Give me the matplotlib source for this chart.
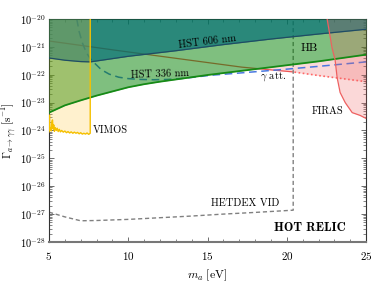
import numpy as np
import matplotlib
matplotlib.use("Agg")
import matplotlib.pyplot as plt
from matplotlib.ticker import LogLocator, MultipleLocator, NullFormatter

plt.rcParams["font.family"] = "serif"
plt.rcParams["font.serif"] = ["cmr10"]
plt.rcParams["mathtext.fontset"] = "cm"
plt.rcParams["axes.formatter.use_mathtext"] = True

# --- data (log10 of rate in s^-1, mass in eV) ---
hb_m = [5, 6, 7, 8, 9, 10, 11, 12, 13, 14, 15, 16, 18, 20, 22, 25]
hb_log = [-23.36, -23.1, -22.92, -22.75, -22.6, -22.45, -22.34, -22.25,
          -22.17, -22.09, -22.01, -21.94, -21.8, -21.66, -21.52, -21.28]

hst606_m = [5, 6, 7, 7.6, 10, 13, 16, 19, 22, 25]
hst606_log = [-21.4, -21.48, -21.53, -21.54, -21.34, -21.14, -20.92, -20.72, -20.54, -20.37]

hst336_m = [6.75, 6.9, 7.1, 7.35, 7.6, 7.9, 8.3, 8.8, 9.4, 10.0, 10.8, 11.6,
            12.5, 13.5, 15.2, 17, 18.3, 20, 22, 25]
hst336_log = [-20.0, -20.45, -20.85, -21.2, -21.42, -21.6, -21.82, -21.98, -22.09,
              -22.14, -22.17, -22.18, -22.17, -22.13, -22.02, -21.94, -21.88, -21.8,
              -21.7, -21.54]

gatt_m = [5, 8, 11, 14, 17, 20.4, 22, 25]
gatt_log = [-20.79, -21.03, -21.26, -21.49, -21.72, -21.9, -22.03, -22.25]
gatt_split = 20.4

vimos_m = [5.00, 5.03, 5.06, 5.10, 5.14, 5.18, 5.22, 5.26, 5.30, 5.34, 5.40, 5.46,
           5.52, 5.58, 5.65, 5.72, 5.80, 5.90, 6.0, 6.1, 6.2, 6.3, 6.4, 6.5, 6.6,
           6.7, 6.8, 6.9, 7.0, 7.1, 7.2, 7.3, 7.4, 7.5, 7.6]
vimos_log = [-24.05, -23.45, -24.0, -23.9, -24.02, -23.7, -23.62, -23.95, -23.8,
             -24.03, -23.9, -24.0, -23.92, -24.04, -23.96, -24.05, -24.0, -24.06,
             -24.02, -24.08, -24.04, -24.09, -24.05, -24.1, -24.06, -24.1, -24.07,
             -24.12, -24.08, -24.13, -24.1, -24.13, -24.09, -24.14, -24.1]

firas_m = [22.54, 22.85, 23.04, 23.17, 23.36, 23.68, 24.12, 24.62, 25.0]
firas_log = [-20.0, -21.04, -21.46, -22.1, -22.64, -23.0, -23.36, -23.46, -23.57]

hetdex_m = [5, 6, 7, 8, 10, 12, 14, 16, 18, 20.4]
hetdex_log = [-26.93, -27.1, -27.24, -27.23, -27.19, -27.13, -27.07, -27.0, -26.94, -26.86]

top = 1e-20


def p(v):
    return 10.0 ** np.asarray(v)


fig = plt.figure(figsize=(3.74, 2.83), dpi=100)
ax = fig.add_axes([0.131, 0.145, 0.848, 0.788])

# gamma attenuation (under the other fills)
gm = np.linspace(5, 25, 200)
g_red = np.interp(gm, gatt_m, gatt_log)
g_hb = np.interp(gm, hb_m, hb_log)
ax.fill_between(gm, p(g_red), p(g_hb), where=g_hb > g_red, color="#f4a0a0",
                alpha=0.4, lw=0, zorder=1)
solid = gm <= gatt_split
ax.plot(gm[solid], p(g_red[solid]), color="#ee5555", lw=0.9, zorder=1.5)
ax.plot(gm[~solid], p(g_red[~solid]), color="#ff6666", lw=1.2, ls=(0, (1, 1.5)),
        zorder=1.5)

# HETDEX VID
ax.plot(hetdex_m + [hetdex_m[-1]], list(p(hetdex_log)) + [top], color="grey",
        lw=1.0, ls=(0, (3, 2)), zorder=2)

# HST 336 nm
ax.plot(hst336_m, p(hst336_log), color="#4a78e0", lw=1.1, ls=(0, (5, 3)), zorder=2)

# HB
ax.fill_between(hb_m, p(hb_log), top, color="#008000", alpha=0.5, lw=0, zorder=3)
# HST 606 nm
ax.fill_between(hst606_m, p(hst606_log), top, color="#006e78", alpha=0.67, lw=0,
                zorder=4)

# VIMOS
ax.fill_between(vimos_m, p(vimos_log), top, color="#ffc83c", alpha=0.25, lw=0,
                zorder=5)
# FIRAS
ax.fill_between(firas_m, p(firas_log), top, color="#f06464", alpha=0.25, lw=0,
                zorder=5)

ax.plot(hb_m, p(hb_log), color="#168a16", lw=1.3, zorder=6)
ax.plot(hst606_m, p(hst606_log), color="#1f4c64", lw=0.9, zorder=6)
ax.plot(vimos_m + [vimos_m[-1]], list(p(vimos_log)) + [top], color="#f5c000",
        lw=1.0, zorder=6)
ax.plot(firas_m, p(firas_log), color="#ee6060", lw=0.9, zorder=6)

# labels
fs = 7.5
ax.text(15.0, p(-20.82), "HST 606 nm", fontsize=fs, ha="center", va="center",
        rotation=7, zorder=7)
ax.text(12.0, p(-21.98), "HST 336 nm", fontsize=fs, ha="center", va="center",
        rotation=2, zorder=7)
ax.text(21.4, p(-21.04), "HB", fontsize=8.5, ha="center", va="center", zorder=7)
ax.text(19.1, p(-22.07), r"$\gamma$ att.", fontsize=fs, ha="center", va="center",
        zorder=7)
ax.text(22.57, p(-23.32), "FIRAS", fontsize=fs, ha="center", va="center", zorder=7)
ax.text(7.75, p(-24.0), "VIMOS", fontsize=fs, ha="left", va="center", zorder=7)
ax.text(17.37, p(-26.6), "HETDEX VID", fontsize=fs, ha="center", va="center",
        zorder=7)
ax.text(21.47, p(-27.5), "HOT RELIC", fontsize=9, family="cmb10", ha="center",
        va="center", zorder=7)

ax.set_yscale("log")
ax.set_xlim(5, 25)
ax.set_ylim(1e-28, 1e-20)
ax.xaxis.set_major_locator(MultipleLocator(5))
ax.xaxis.set_minor_locator(MultipleLocator(1))
ax.yaxis.set_major_locator(LogLocator(base=10, numticks=20))
ax.yaxis.set_minor_locator(LogLocator(base=10, subs=np.arange(2, 10), numticks=20))
ax.yaxis.set_minor_formatter(NullFormatter())
ax.tick_params(which="both", direction="in", top=True, right=True,
               color="#555555")
ax.tick_params(axis="x", labelsize=8, pad=6)
ax.tick_params(axis="y", labelsize=7.5, pad=2.5)
ax.tick_params(which="major", length=3.5, width=0.6)
ax.tick_params(which="minor", length=2, width=0.5)
for s in ax.spines.values():
    s.set_color("#333333")
    s.set_linewidth(0.8)
ax.spines["bottom"].set_color("#777777")
ax.spines["bottom"].set_linewidth(1.5)

ax.set_xlabel(r"$m_a\ [\mathrm{eV}]$", fontsize=8.5)
ax.set_ylabel(r"$\Gamma_{a\to\gamma\gamma}\ [\mathrm{s}^{-1}]$", fontsize=8)
ax.yaxis.set_label_coords(-0.093, 0.5)
ax.xaxis.set_label_coords(0.5, -0.115)

fig.savefig("out.png", dpi=100)
